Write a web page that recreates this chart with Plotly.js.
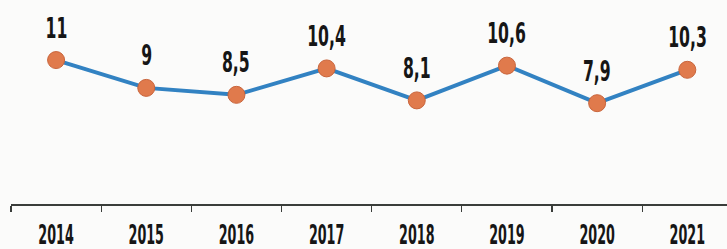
<!DOCTYPE html>
<html>
<head>
<meta charset="utf-8">
<script src="https://cdn.plot.ly/plotly-3.0.1.min.js"></script>
<style>
  html, body { margin: 0; padding: 0; background: #fbfbfa; }
  #chart { width: 727px; height: 249px; }
</style>
</head>
<body>
<div id="chart"></div>
<script>
const years = ["2014", "2015", "2016", "2017", "2018", "2019", "2020", "2021"];
const values = [11, 9, 8.5, 10.4, 8.1, 10.6, 7.9, 10.3];
const valueLabels = ["11", "9", "8,5", "10,4", "8,1", "10,6", "7,9", "10,3"];

const fontFamily = "'DejaVu Sans', sans-serif";

const trace = {
  x: years,
  y: values,
  type: "scatter",
  mode: "lines+markers",
  line: { color: "#3282c2", width: 4 },
  marker: { color: "#e07a4c", size: 17, line: { color: "#c9653c", width: 1 } },
  hoverinfo: "skip"
};

const annotations = years.map((yr, i) => ({
  xref: "x",
  yref: "y",
  x: i,
  y: values[i],
  text: valueLabels[i],
  showarrow: false,
  yshift: 32,
  yanchor: "middle",
  font: { family: fontFamily, size: 28, color: "#161616", weight: 700 }
}));

const layout = {
  width: 727,
  height: 249,
  margin: { l: 11, r: 0, t: 10, b: 45 },
  paper_bgcolor: "#fbfbfa",
  plot_bgcolor: "rgba(0,0,0,0)",
  showlegend: false,
  xaxis: {
    type: "category",
    range: [-0.5, 7.44],
    tickson: "boundaries",
    ticks: "outside",
    ticklen: 6,
    tickwidth: 1.2,
    tickcolor: "#3a3d3a",
    showline: true,
    linecolor: "#3a3d3a",
    linewidth: 1.5,
    showgrid: false,
    zeroline: false,
    ticklabelstandoff: 7,
    tickfont: { family: fontFamily, size: 26, color: "#161616", weight: 700 }
  },
  yaxis: {
    range: [0.65, 14.6],
    visible: false,
    showgrid: false,
    zeroline: false
  },
  annotations: annotations
};

// narrow the bold glyphs horizontally around each text's own centre
function condense(root, selector, ratio) {
  root.querySelectorAll(selector).forEach(t => {
    const b = t.getBBox();
    if (b.width > 0) {
      const cx = b.x + b.width / 2;
      const prev = t.getAttribute("transform") || "";
      t.setAttribute("transform",
        (prev + " translate(" + cx.toFixed(2) + ",0) scale(" + ratio + ",1) translate(" + (-cx).toFixed(2) + ",0)").trim());
    }
  });
}

const gd = document.getElementById("chart");
Plotly.newPlot(gd, [trace], layout, { displayModeBar: false, staticPlot: true }).then(() => {
  condense(gd, ".annotation-text", 0.56);
  condense(gd, ".xtick text", 0.49);
});
</script>
</body>
</html>
